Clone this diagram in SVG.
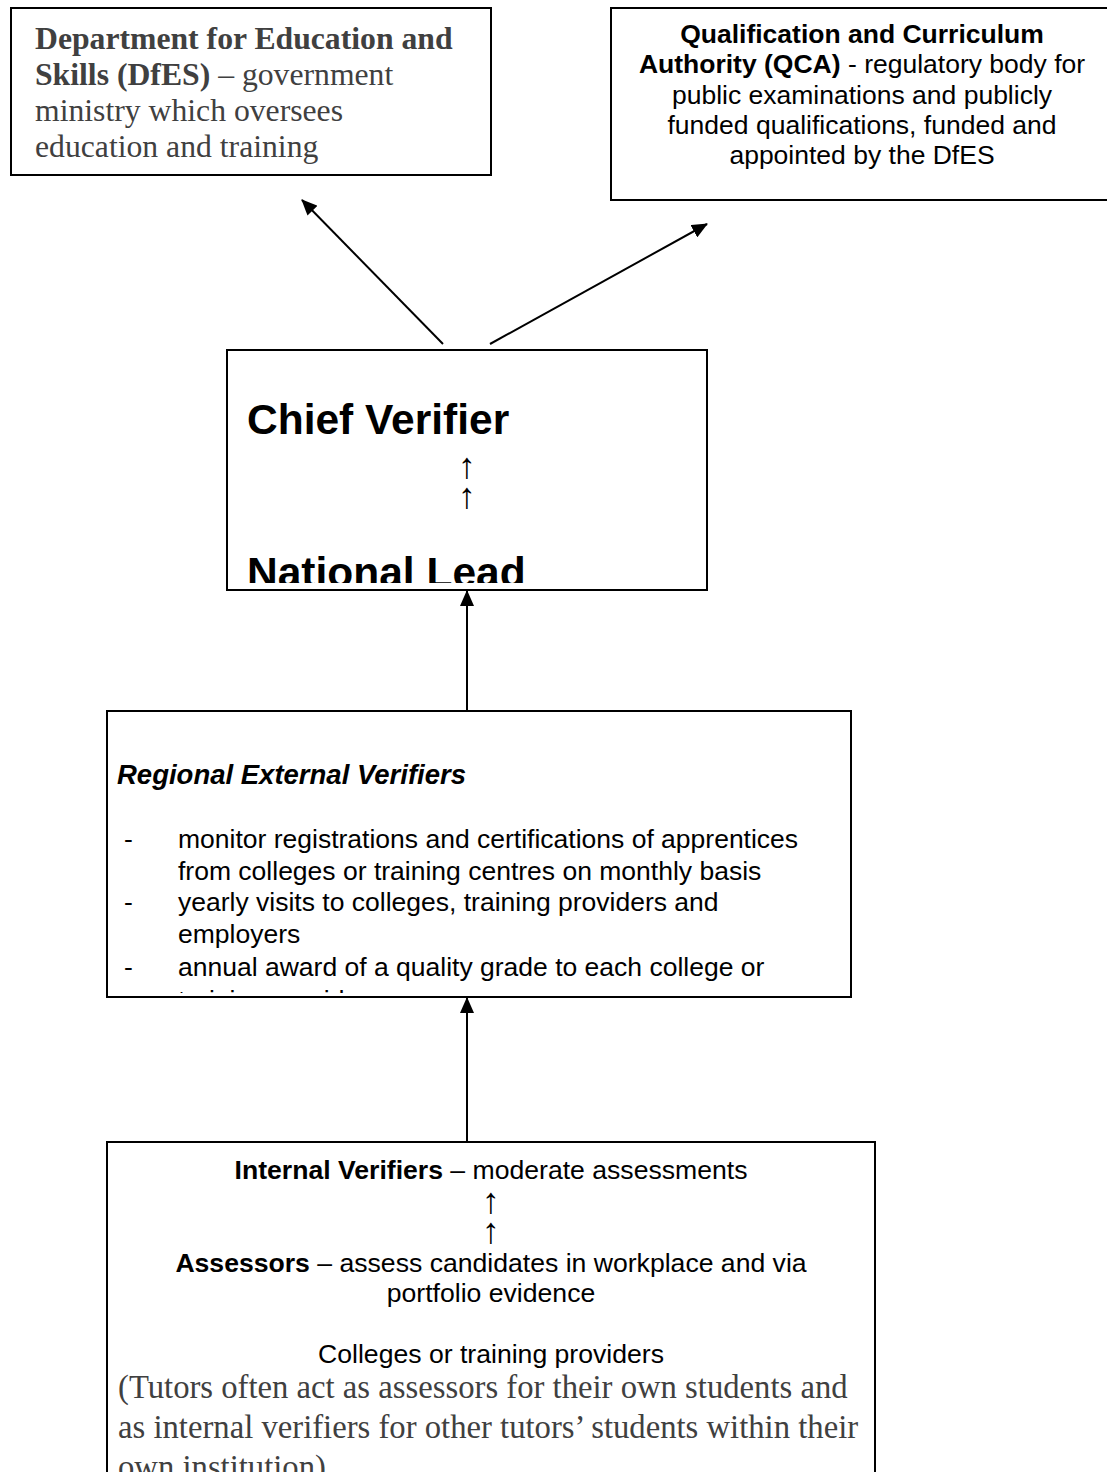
<svg xmlns="http://www.w3.org/2000/svg" width="1107" height="1472" viewBox="0 0 1107 1472">
<defs>
<marker id="ah" markerUnits="userSpaceOnUse" markerWidth="16" markerHeight="14" refX="15" refY="7" orient="auto">
<path d="M0,0 L16,7 L0,14 Z" fill="#000"/>
</marker>
<clipPath id="clipChief"><rect x="227" y="350" width="480" height="233"/></clipPath>
<clipPath id="clipReg"><rect x="107" y="711" width="744" height="282"/></clipPath>
</defs>
<style>
.box{fill:#fff;stroke:#000;stroke-width:2}
.serif{font-family:"Liberation Serif","Times New Roman",serif;fill:#404040}
.sans{font-family:"Liberation Sans",Arial,sans-serif;fill:#000}
.b{font-weight:bold}
.arr{font-family:"Liberation Sans",Arial,sans-serif;fill:#000;font-size:36px;text-anchor:middle}
.conn{stroke:#000;stroke-width:2;fill:none;marker-end:url(#ah)}
</style>
<rect width="1107" height="1472" fill="#fff"/>

<g id="dfes">
<rect class="box" x="11" y="8" width="480" height="167"/>
<text class="serif" font-size="31.7" x="35" y="49"><tspan class="b">Department for Education and</tspan></text>
<text class="serif" font-size="31.7" x="35" y="85"><tspan class="b">Skills (DfES)</tspan> – government</text>
<text class="serif" font-size="31.7" x="35" y="121">ministry which oversees</text>
<text class="serif" font-size="31.7" x="35" y="157">education and training</text>
</g>

<g id="qca">
<rect class="box" x="611" y="8" width="510" height="192"/>
<g class="sans" font-size="26.5" text-anchor="middle">
<text x="862" y="43" class="b">Qualification and Curriculum</text>
<text x="862" y="73"><tspan class="b">Authority (QCA)</tspan> - regulatory body for</text>
<text x="862" y="104">public examinations and publicly</text>
<text x="862" y="134">funded qualifications, funded and</text>
<text x="862" y="164">appointed by the DfES</text>
</g>
</g>

<g id="chief">
<rect class="box" x="227" y="350" width="480" height="240"/>
<g clip-path="url(#clipChief)">
<text class="sans b" font-size="42.5" x="247" y="434">Chief Verifier</text>
<text class="arr"><tspan x="467" y="478">↑</tspan><tspan x="467" y="508">↑</tspan></text>
<text class="sans b" font-size="42.5" x="247" y="587">National Lead</text>
</g>
</g>

<g id="regional">
<rect class="box" x="107" y="711" width="744" height="286"/>
<g clip-path="url(#clipReg)" class="sans" font-size="26.5">
<text x="117" y="784" font-weight="bold" font-style="italic" font-size="27.5">Regional External Verifiers</text>
<text x="124" y="848">-</text>
<text x="178" y="848">monitor registrations and certifications of apprentices</text>
<text x="178" y="880">from colleges or training centres on monthly basis</text>
<text x="124" y="911">-</text>
<text x="178" y="911">yearly visits to colleges, training providers and</text>
<text x="178" y="943">employers</text>
<text x="124" y="976">-</text>
<text x="178" y="976">annual award of a quality grade to each college or</text>
<text x="178" y="1009">training provider</text>
</g>
</g>

<g id="colleges">
<rect class="box" x="107" y="1142" width="768" height="360"/>
<g class="sans" font-size="26.6" text-anchor="middle">
<text x="491" y="1179"><tspan class="b">Internal Verifiers</tspan> – moderate assessments</text>
<text class="arr"><tspan x="491" y="1213">↑</tspan><tspan x="491" y="1243">↑</tspan></text>
<text x="491" y="1272"><tspan class="b">Assessors</tspan> – assess candidates in workplace and via</text>
<text x="491" y="1302">portfolio evidence</text>
<text x="491" y="1363">Colleges or training providers</text>
</g>
<text class="serif" font-size="32.7" x="118" y="1398">(Tutors often act as assessors for their own students and</text>
<text class="serif" font-size="32.7" x="118" y="1438">as internal verifiers for other tutors’ students within their</text>
<text class="serif" font-size="32.7" x="118" y="1478">own institution)</text>
</g>

<g id="connectors">
<line class="conn" x1="443" y1="344" x2="302" y2="200"/>
<line class="conn" x1="490" y1="344" x2="707" y2="224"/>
<line class="conn" x1="467" y1="711" x2="467" y2="591"/>
<line class="conn" x1="467" y1="1142" x2="467" y2="998"/>
</g>
</svg>
